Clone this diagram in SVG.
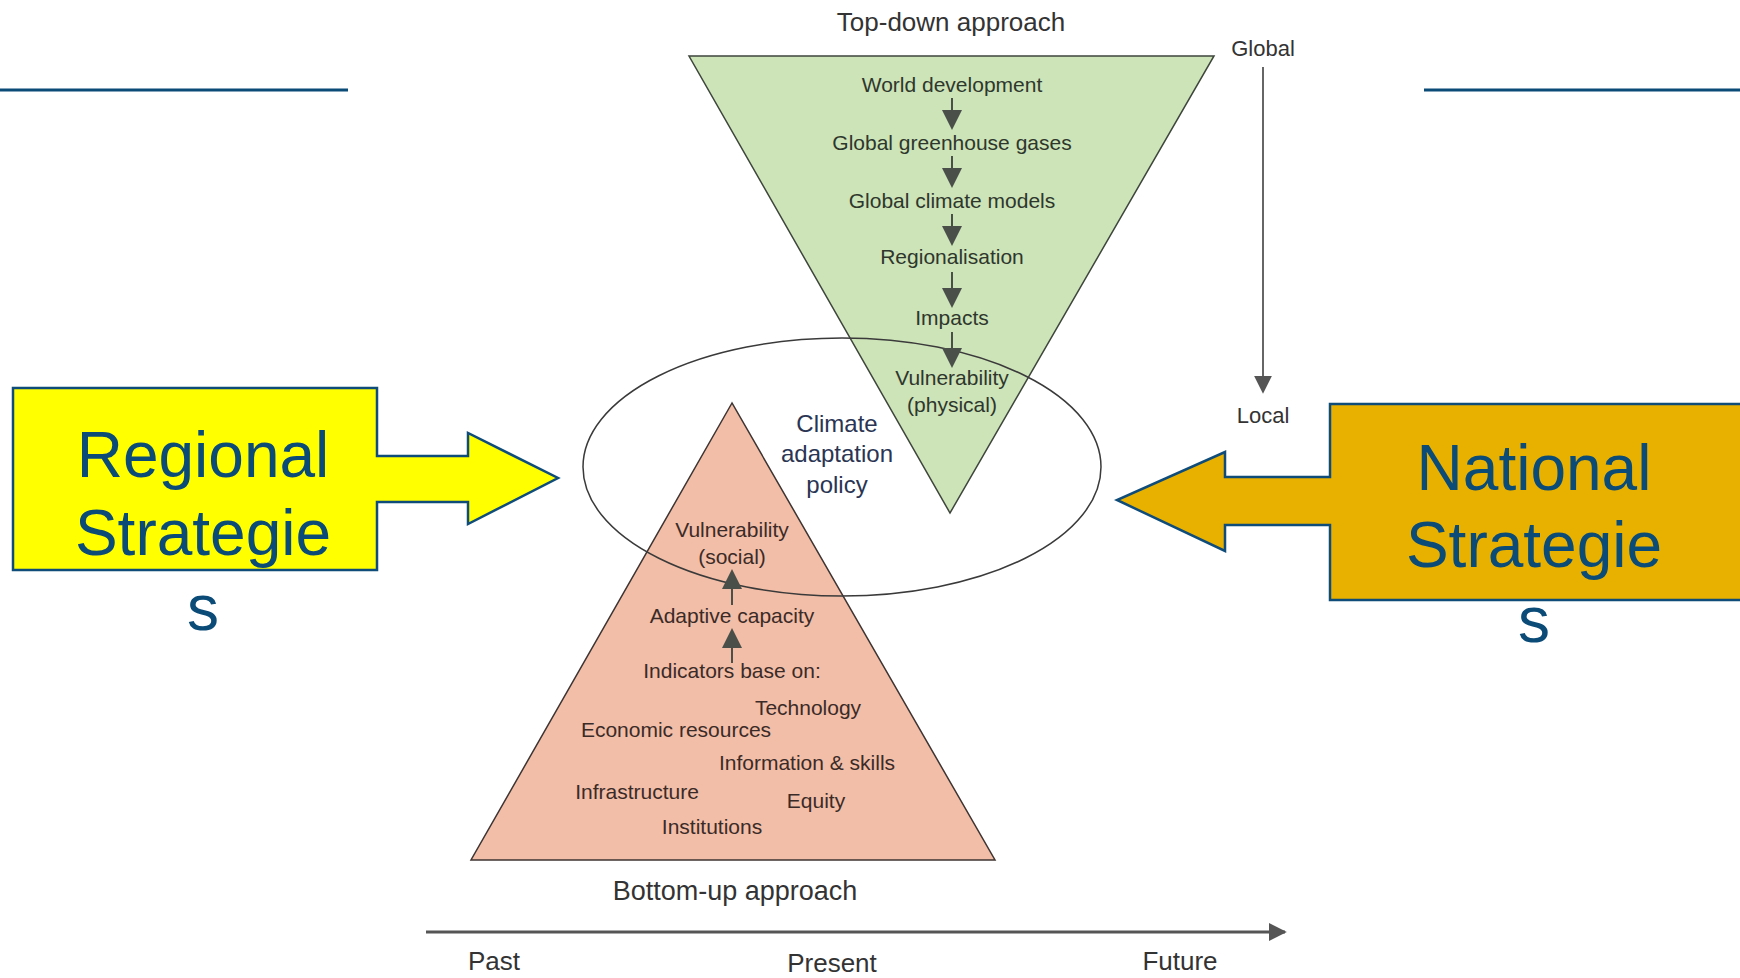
<svg xmlns="http://www.w3.org/2000/svg" width="1740" height="978" viewBox="0 0 1740 978">
<style>
.t{font-family:"Liberation Sans",Arial,sans-serif;text-anchor:middle}
.g{font-size:21px;fill:#2e372c}
.p{font-size:21px;fill:#3b2b28}
.hd{font-size:26px;fill:#333}
.big{font-size:64px;fill:#0b4b78}
.pol{font-size:24px;fill:#2a3553}
.conn{stroke:#4a4f4a;stroke-width:2;fill:none}
</style>
<defs>
<marker id="ah" viewBox="0 0 10 10" refX="9" refY="5" markerWidth="20" markerHeight="22" markerUnits="userSpaceOnUse" orient="auto">
<path d="M0,0 L10,5 L0,10 z" fill="#4a4f4a"/>
</marker>
<marker id="ahg" viewBox="0 0 10 10" refX="9" refY="5" markerWidth="18" markerHeight="20" markerUnits="userSpaceOnUse" orient="auto">
<path d="M0,0 L10,5 L0,10 z" fill="#555"/>
</marker>
</defs>
<rect width="1740" height="978" fill="#fff"/>
<line x1="0" y1="90" x2="348" y2="90" stroke="#0b4b78" stroke-width="3"/>
<line x1="1424" y1="90" x2="1740" y2="90" stroke="#0b4b78" stroke-width="3"/>

<g id="topdown">
<polygon points="689,56 1214,56 950,513" fill="#cde3b8" stroke="#3e463c" stroke-width="1.5"/>
<text class="t hd" x="951" y="31">Top-down approach</text>
<text class="t g" x="952" y="92">World development</text>
<text class="t g" x="952" y="150">Global greenhouse gases</text>
<text class="t g" x="952" y="208">Global climate models</text>
<text class="t g" x="952" y="264">Regionalisation</text>
<text class="t g" x="952" y="325">Impacts</text>
<text class="t g" x="952" y="385">Vulnerability</text>
<text class="t g" x="952" y="412">(physical)</text>
</g>

<g id="bottomup">
<polygon points="732,403 471,860 995,860" fill="#f2bea7" stroke="#3e3432" stroke-width="1.5"/>
<text class="t p" x="732" y="537">Vulnerability</text>
<text class="t p" x="732" y="564">(social)</text>
<text class="t p" x="732" y="623">Adaptive capacity</text>
<text class="t p" x="732" y="678">Indicators base on:</text>
<text class="t p" x="808" y="715">Technology</text>
<text class="t p" x="676" y="737">Economic resources</text>
<text class="t p" x="807" y="770">Information &amp; skills</text>
<text class="t p" x="637" y="799">Infrastructure</text>
<text class="t p" x="816" y="808">Equity</text>
<text class="t p" x="712" y="834">Institutions</text>
<text class="t hd" x="735" y="900" style="font-size:27px">Bottom-up approach</text>
</g>

<g id="policy">
<ellipse cx="842" cy="467" rx="259" ry="129" fill="none" stroke="#3a3a3a" stroke-width="1.5"/>
<text class="t pol" x="837" y="432">Climate</text>
<text class="t pol" x="837" y="462">adaptation</text>
<text class="t pol" x="837" y="493">policy</text>
</g>

<g id="scale">
<text class="t hd" x="1263" y="56" style="font-size:22px">Global</text>
<text class="t hd" x="1263" y="423" style="font-size:22px">Local</text>
</g>

<g id="timeline">
<text class="t hd" x="494" y="970">Past</text>
<text class="t hd" x="832" y="972">Present</text>
<text class="t hd" x="1180" y="970">Future</text>
</g>

<g id="regional">
<polygon points="13,388 377,388 377,456 468,456 468,433 558,478 468,524 468,502 377,502 377,570 13,570" fill="#ffff00" stroke="#0f4c7a" stroke-width="2.5"/>
<text class="t big" x="203" y="477">Regional</text>
<text class="t big" x="203" y="555">Strategie</text>
<text class="t big" x="203" y="630">s</text>
</g>

<g id="national">
<polygon points="1742,404 1330,404 1330,477 1225,477 1225,452 1117,500 1225,551 1225,525 1330,525 1330,600 1742,600" fill="#e8b100" stroke="#0f4c7a" stroke-width="2.5"/>
<text class="t big" x="1534" y="490">National</text>
<text class="t big" x="1534" y="567">Strategie</text>
<text class="t big" x="1534" y="642">s</text>
</g>

<g id="connectors">
<line class="conn" x1="952" y1="98" x2="952" y2="128" marker-end="url(#ah)"/>
<line class="conn" x1="952" y1="156" x2="952" y2="186" marker-end="url(#ah)"/>
<line class="conn" x1="952" y1="214" x2="952" y2="244" marker-end="url(#ah)"/>
<line class="conn" x1="952" y1="272" x2="952" y2="306" marker-end="url(#ah)"/>
<line class="conn" x1="952" y1="332" x2="952" y2="366" marker-end="url(#ah)"/>
<line class="conn" x1="732" y1="605" x2="732" y2="571" marker-end="url(#ah)"/>
<line class="conn" x1="732" y1="663" x2="732" y2="630" marker-end="url(#ah)"/>
<line x1="1263" y1="67" x2="1263" y2="392" stroke="#666" stroke-width="2" marker-end="url(#ahg)"/>
<line x1="426" y1="932" x2="1285" y2="932" stroke="#555" stroke-width="3" marker-end="url(#ahg)"/>
</g>
</svg>
